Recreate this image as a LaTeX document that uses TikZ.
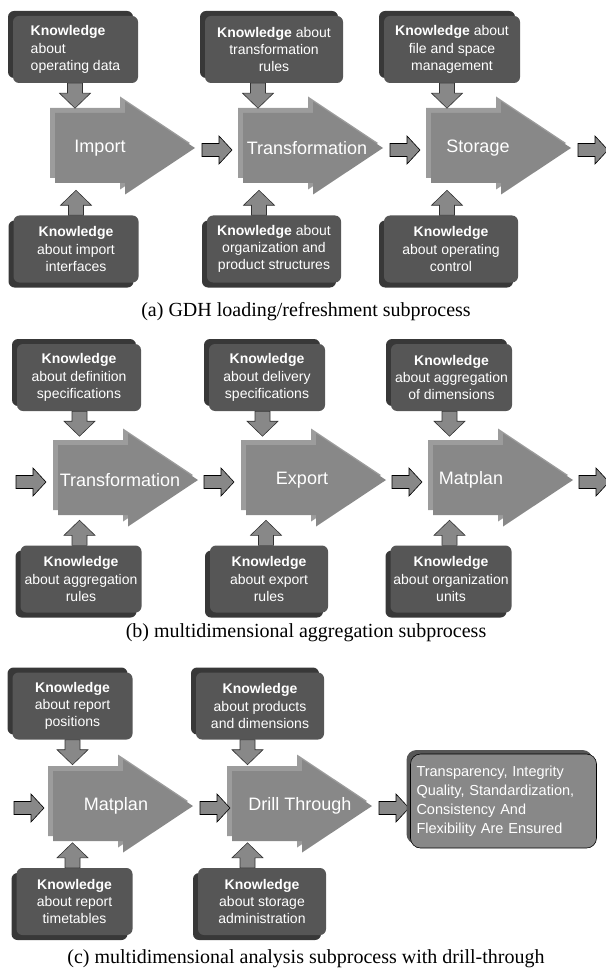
\documentclass[tikz,border=0pt]{standalone}
\usepackage{fontspec}
\setmainfont{Liberation Serif}
\setsansfont{Liberation Sans}
\usepackage{tikz}
\usetikzlibrary{positioning, calc, shadows}

\definecolor{kfront}{RGB}{86,86,86}
\definecolor{kback}{RGB}{56,56,56}
\definecolor{sfront}{RGB}{136,136,136}
\definecolor{sback}{RGB}{156,156,156}

\tikzset{
  know/.style={fill=kfront, rounded corners=6pt, text=white, align=center,
    font=\sffamily\fontsize{14}{17.3}\selectfont, minimum height=67pt, inner sep=2pt},
  topshade/.style={drop shadow={shadow xshift=-5pt, shadow yshift=5pt, fill=kback, opacity=1}},
  botshade/.style={drop shadow={shadow xshift=-5pt, shadow yshift=-5pt, fill=kback, opacity=1}},
  stagetext/.style={text=white, font=\sffamily\fontsize{18}{20}\selectfont, inner sep=0pt},
  caption/.style={font=\fontsize{20}{24}\selectfont, anchor=base, inner sep=0pt},
  result/.style={fill=sfront, draw=black, line width=0.6pt, rounded corners=10pt, text=white,
    align=left, text width=174pt, minimum height=94pt, inner sep=6pt,
    font=\sffamily\fontsize{14.5}{19}\selectfont,
    drop shadow={shadow xshift=-4pt, shadow yshift=4pt, fill=kfront, opacity=1}},
  pics/stage/.style={code={
    \fill[sback] (0,-35) -- (70,-35) -- (70,-46.5) -- (140,0) -- (70,46.5) -- (70,35) -- (0,35) -- cycle;
    \fill[sfront] (5,-30) -- (75,-30) -- (75,-41.5) -- (145,5) -- (75,51.5) -- (75,40) -- (5,40) -- cycle;
  }},
  pics/flow/.style={code={
    \filldraw[fill=sfront, draw=black, line width=0.6pt, line join=miter]
      (0,-6.5) -- (17,-6.5) -- (17,-14) -- (30,0) -- (17,14) -- (17,6.5) -- (0,6.5) -- cycle;
  }},
  pics/feed/.style={code={
    \filldraw[fill=sfront, draw=black!80, line width=0.6pt, line join=miter]
      (0,-7.5) -- (10,-7.5) -- (10,-15.5) -- (25,0) -- (10,15.5) -- (10,7.5) -- (0,7.5) -- cycle;
  }}
}

\begin{document}
\begin{tikzpicture}[x=1pt, y=-1pt]
\useasboundingbox (0,0) rectangle (605,968);

% (a) loading / refreshment
\coordinate (sA1) at (50,143);
\coordinate (sA2) at (238,143);
\coordinate (sA3) at (426,143);
\foreach \s in {sA1,sA2,sA3} \pic at (\s) {stage};
\node[stagetext] (tA1) at ($(sA1)+(50,5)$) {Import};
\node[stagetext] (tA2) at ($(sA2)+(69,5)$) {Transformation};
\node[stagetext] (tA3) at ($(sA3)+(52,5)$) {Storage};

\node[know, topshade, minimum width=125pt, align=left] (kA1) at (75.5,49.5) {\textbf{Knowledge}\\about\\operating data};
\node[know, topshade, minimum width=138pt] (kA2) at (274,49.5) {\textbf{Knowledge} about\\transformation\\rules};
\node[know, topshade, minimum width=136pt] (kA3) at (452,49.5) {\textbf{Knowledge} about\\file and space\\management};
\node[know, botshade, minimum width=125pt] (kA4) at (76,249) {\textbf{Knowledge}\\about import\\interfaces};
\node[know, botshade, minimum width=134pt] (kA5) at (274,249) {\textbf{Knowledge} about\\organization and\\product structures};
\node[know, botshade, minimum width=134pt] (kA6) at (451,249) {\textbf{Knowledge}\\about operating\\control};

\pic[rotate=-90] at ($(kA1.south -| sA1)+(25,0)$) {feed};
\pic[rotate=-90] at ($(kA2.south -| sA2)+(20,0)$) {feed};
\pic[rotate=-90] at ($(kA3.south -| sA3)+(21,0)$) {feed};
\pic[rotate=90] at ($(kA4.north -| sA1)+(26,0)$) {feed};
\pic[rotate=90] at ($(kA5.north -| sA2)+(21,0)$) {feed};
\pic[rotate=90] at ($(kA6.north -| sA3)+(21,0)$) {feed};

\foreach \s in {sA1,sA2,sA3} \pic at ($(\s)+(152,7)$) {flow};
\node[caption] (capA) at (306,316) {(a) GDH loading/refreshment subprocess};

% (b) multidimensional aggregation
\coordinate (sB1) at (53,475);
\coordinate (sB2) at (241,475);
\coordinate (sB3) at (428,475);
\foreach \s in {sB1,sB2,sB3} \pic at (\s) {stage};
\node[stagetext] (tB1) at ($(sB1)+(67,5)$) {Transformation};
\node[stagetext] (tB2) at ($(sB2)+(61,5)$) {Export};
\node[stagetext] (tB3) at ($(sB3)+(43,5)$) {Matplan};

\node[know, topshade, minimum width=124pt] (kB1) at (79,377.5) {\textbf{Knowledge}\\about definition\\specifications};
\node[know, topshade, minimum width=116pt] (kB2) at (267,377.5) {\textbf{Knowledge}\\about delivery\\specifications};
\node[know, topshade, minimum width=121pt] (kB3) at (451.5,377.5) {\textbf{Knowledge}\\about aggregation\\of dimensions};
\node[know, botshade, minimum width=121pt] (kB4) at (81,579) {\textbf{Knowledge}\\about aggregation\\rules};
\node[know, botshade, minimum width=118pt] (kB5) at (269,579) {\textbf{Knowledge}\\about export\\rules};
\node[know, botshade, minimum width=121pt] (kB6) at (451,579) {\textbf{Knowledge}\\about organization\\units};

\pic[rotate=-90] at ($(kB1.south -| sB1)+(26.5,0)$) {feed};
\pic[rotate=-90] at ($(kB2.south -| sB2)+(21.5,0)$) {feed};
\pic[rotate=-90] at ($(kB3.south -| sB3)+(21.5,0)$) {feed};
\pic[rotate=90] at ($(kB4.north -| sB1)+(26.5,0)$) {feed};
\pic[rotate=90] at ($(kB5.north -| sB2)+(25,0)$) {feed};
\pic[rotate=90] at ($(kB6.north -| sB3)+(21.5,0)$) {feed};

\pic at ($(sB1)+(-37,7)$) {flow};
\foreach \s in {sB1,sB2,sB3} \pic at ($(\s)+(151,7)$) {flow};
\node[caption] (capB) at (306,637) {(b) multidimensional aggregation subprocess};

% (c) analysis with drill-through
\coordinate (sC1) at (48,801);
\coordinate (sC2) at (227,801);
\foreach \s in {sC1,sC2} \pic at (\s) {stage};
\node[stagetext] (tC1) at ($(sC1)+(68,5)$) {Matplan};
\node[stagetext] (tC2) at ($(sC2)+(73,5)$) {Drill Through};

\node[know, topshade, minimum width=120pt] (kC1) at (72.5,706) {\textbf{Knowledge}\\about report\\positions};
\node[know, topshade, minimum width=128pt] (kC2) at (260,706) {\textbf{Knowledge}\\about products\\and dimensions};
\node[know, botshade, minimum width=116pt] (kC3) at (74.5,901.5) {\textbf{Knowledge}\\about report\\timetables};
\node[know, botshade, minimum width=128pt] (kC4) at (262,901.5) {\textbf{Knowledge}\\about storage\\administration};

\pic[rotate=-90] at ($(kC1.south -| sC1)+(24.5,0)$) {feed};
\pic[rotate=-90] at ($(kC2.south -| sC2)+(20.5,0)$) {feed};
\pic[rotate=90] at ($(kC3.north -| sC1)+(24.5,0)$) {feed};
\pic[rotate=90] at ($(kC4.north -| sC2)+(20.5,0)$) {feed};

\pic at ($(sC1)+(-34,7)$) {flow};
\foreach \s in {sC1,sC2} \pic at ($(\s)+(152,7)$) {flow};

\node[result] (res) at (503.5,801) {Transparency, Integrity\\Quality, Standardization,\\Consistency And\\Flexibility Are Ensured};
\node[caption] (capC) at (306,963) {(c) multidimensional analysis subprocess with drill-through};
\end{tikzpicture}
\end{document}
